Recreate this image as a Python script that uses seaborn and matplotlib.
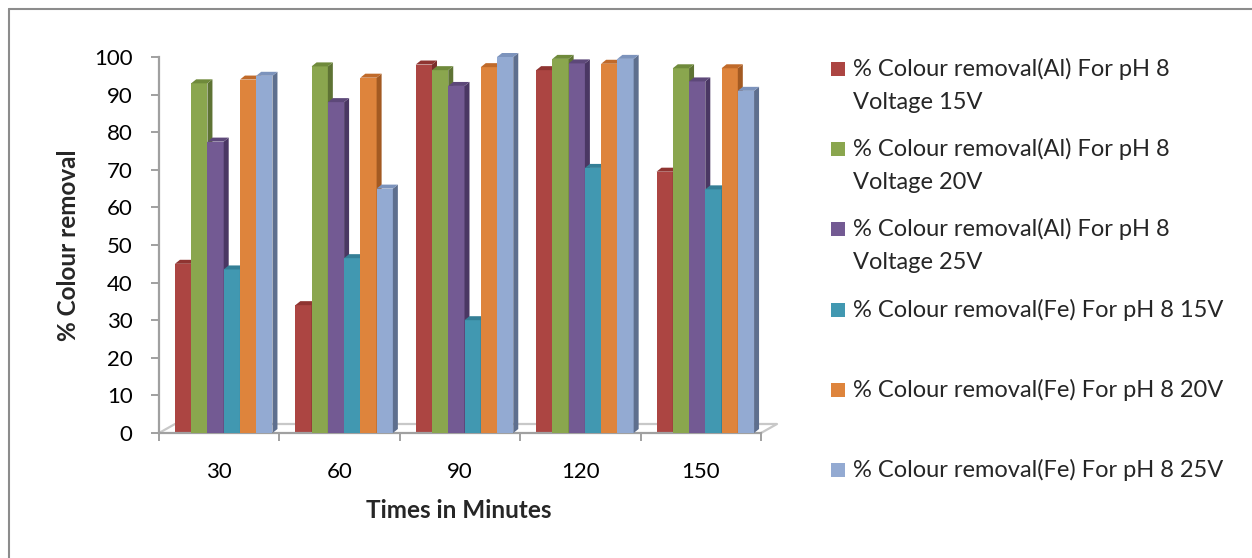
import numpy as np
import pandas as pd
import matplotlib
matplotlib.use("Agg")
import matplotlib.pyplot as plt
from matplotlib.patches import Polygon, Rectangle
from matplotlib.lines import Line2D
import seaborn as sns

# ---- data -------------------------------------------------------------
times = ["30", "60", "90", "120", "150"]
series = [
    "% Colour removal(Al) For pH 8\nVoltage 15V",
    "% Colour removal(Al) For pH 8\nVoltage 20V",
    "% Colour removal(Al) For pH 8\nVoltage 25V",
    "% Colour removal(Fe) For pH 8 15V",
    "% Colour removal(Fe) For pH 8 20V",
    "% Colour removal(Fe) For pH 8 25V",
]
al_15v = [45.0, 34.0, 98.0, 96.5, 69.5]
al_20v = [93.0, 97.5, 96.5, 99.5, 97.0]
al_25v = [77.5, 88.0, 92.3, 98.3, 93.5]
fe_15v = [43.5, 46.5, 30.0, 70.5, 64.8]
fe_20v = [94.0, 94.5, 97.3, 98.2, 97.0]
fe_25v = [95.0, 65.0, 100.0, 99.5, 91.0]
y_ticks = [0, 10, 20, 30, 40, 50, 60, 70, 80, 90, 100]

# ---- styling ----------------------------------------------------------
front = ["#AC4542", "#8AA64E", "#735A93", "#4198B1", "#DE843C", "#93AAD2"]
side = ["#7A2E2B", "#5E7334", "#4A3763", "#2A6A7D", "#A35A22", "#5E6F8E"]
top = ["#8F3431", "#6F8A3B", "#5D4879", "#347F96", "#C06A2A", "#7C93BC"]
grey = "#A0A0A0"

sns.set_theme(style="white")
plt.rcParams["font.family"] = ["Lato", "DejaVu Sans"]
FS_TICK = 16
FS_LAB = 17.5
FS_LEG = 17

W, H = 1252, 558
fig = plt.figure(figsize=(W / 100, H / 100), dpi=100)
ax_l, ax_r, ax_t, ax_b = 159, 761, 57, 433
ax = fig.add_axes([ax_l / W, (H - ax_b) / H, (ax_r - ax_l) / W, (ax_b - ax_t) / H])

values = [al_15v, al_20v, al_25v, fe_15v, fe_20v, fe_25v]
df = pd.DataFrame(
    [(t, s, v[i]) for s, v in zip(series, values) for i, t in enumerate(times)],
    columns=["time", "series", "value"],
)

sns.barplot(
    data=df, x="time", y="value", hue="series", order=times, hue_order=series,
    palette=front, width=0.81, saturation=1, legend=False, ax=ax,
    linewidth=0, edgecolor="none",
)

ax.set_xlim(-0.5, len(times) - 0.5)
ax.set_ylim(0, 100)

# pixel -> data conversions for the pseudo-3D depth
px_x = (ax_r - ax_l) / len(times)
px_y = (ax_b - ax_t) / 100.0
dx, dy = 5 / px_x, 4 / px_y
shift = 4.5 / px_x

for h, cont in enumerate(ax.containers):
    z = 2 + h
    for bar in cont.patches:
        bar.set_x(bar.get_x() + shift)
        bar.set_zorder(z)
        bar.set_clip_on(False)
        x0 = bar.get_x()
        x1 = x0 + bar.get_width()
        hv = bar.get_height()
        ax.add_patch(Polygon([(x1, 0), (x1 + dx, dy), (x1 + dx, hv + dy), (x1, hv)],
                             closed=True, facecolor=side[h], edgecolor="none",
                             zorder=z + 0.2, clip_on=False))
        ax.add_patch(Polygon([(x0, hv), (x0 + dx, hv + dy), (x1 + dx, hv + dy), (x1, hv)],
                             closed=True, facecolor=top[h], edgecolor="none",
                             zorder=z + 0.3, clip_on=False))

# floor of the 3D box
fdx, fdy = 16 / px_x, 9 / px_y
xa, xb = -0.5, len(times) - 0.5
ax.plot([xa, xa + fdx, xb + fdx, xb], [0, fdy, fdy, 0], color="#C8C8C8",
        lw=1.6, zorder=1, clip_on=False)

# axes / ticks
for s in ["top", "right"]:
    ax.spines[s].set_visible(False)
for s in ["left", "bottom"]:
    ax.spines[s].set_color(grey)
    ax.spines[s].set_linewidth(1.6)
ax.set_yticks(y_ticks)
ax.tick_params(axis="y", which="major", left=True, length=6, width=1.4,
               color=grey, pad=13, labelsize=FS_TICK, labelcolor="black")
ax.set_xticks(range(len(times)))
ax.set_xticklabels(times)
ax.set_xticks(np.arange(-0.5, len(times), 1.0), minor=True)
ax.tick_params(axis="x", which="major", bottom=False, length=0, pad=21,
               labelsize=FS_TICK, labelcolor="black")
ax.tick_params(axis="x", which="minor", bottom=True, length=6, width=1.4, color=grey)
ax.set_xlabel("")
ax.set_ylabel("")
ax.grid(False)

fig.text(68 / W, 1 - 245 / H, "% Colour removal", rotation=90, ha="center",
         va="center", fontsize=FS_LAB, fontweight="bold")
fig.text(459 / W, 1 - 510 / H, "Times in Minutes", ha="center", va="center",
         fontsize=FS_LAB, fontweight="bold")

# legend
leg_y0, leg_step, line_step = 69, 80.2, 33
for i, lab in enumerate(series):
    yc = leg_y0 + i * leg_step
    fig.add_artist(Rectangle((831 / W, 1 - (yc + 7) / H), 14 / W, 14 / H,
                             transform=fig.transFigure, facecolor=front[i],
                             edgecolor="none"))
    for j, line in enumerate(lab.split("\n")):
        fig.text(853 / W, 1 - (yc + j * line_step) / H, line, ha="left",
                 va="center", fontsize=FS_LEG)

# chart border
fig.add_artist(Line2D([9 / W, 1.0], [1 - 9 / H, 1 - 9 / H], color="#8C8C8C",
                      lw=1.5, transform=fig.transFigure))
fig.add_artist(Line2D([9 / W, 9 / W], [1 - 9 / H, 0.0], color="#8C8C8C",
                      lw=1.5, transform=fig.transFigure))

fig.savefig("out.png", dpi=100)
